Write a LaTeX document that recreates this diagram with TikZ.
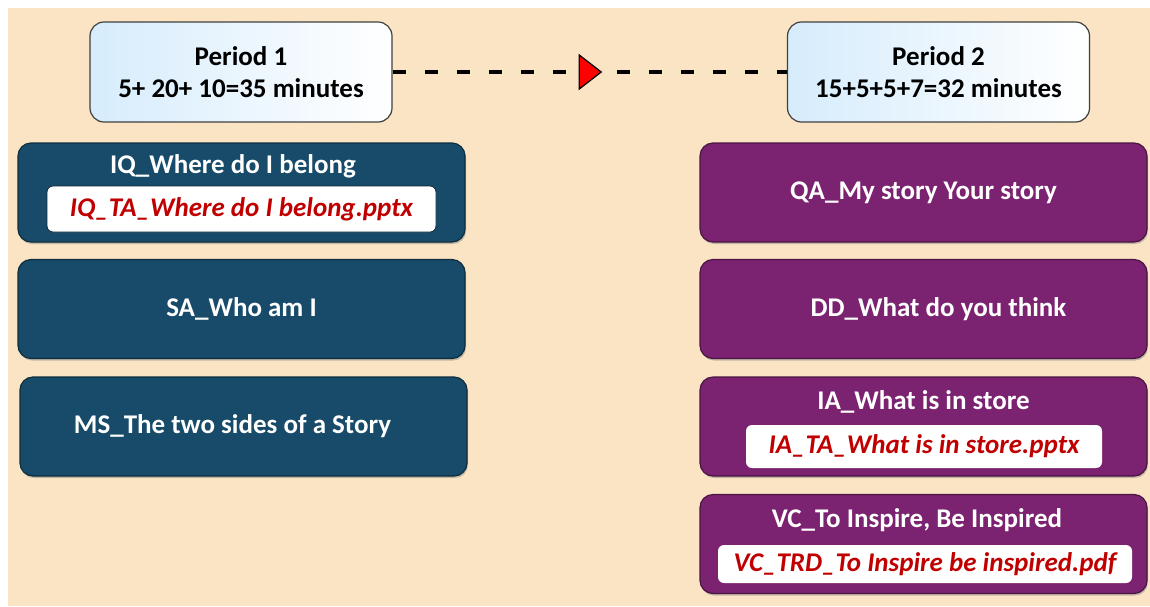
\documentclass[tikz,border=0pt]{standalone}
\usepackage{fontspec}
\setmainfont{Carlito}
\usetikzlibrary{calc}
\usetikzlibrary{shadows}
\definecolor{beige}{RGB}{250,228,196}
\definecolor{tealc}{RGB}{23,75,105}
\definecolor{purplec}{RGB}{123,35,112}
\definecolor{filered}{RGB}{192,0,0}
\definecolor{lightblu}{RGB}{214,236,252}
\tikzset{
    period/.style={draw=black!75, line width=1.2pt, rounded corners=14pt,
        left color=lightblu, right color=white,
        minimum width=302pt, minimum height=100pt, align=center,
        font=\bfseries\fontsize{27}{32}\selectfont},
    topic/.style={rounded corners=13pt, line width=1.2pt,
        minimum width=447pt, minimum height=99pt, text=white,
        font=\bfseries\fontsize{27}{32}\selectfont,
        drop shadow={shadow xshift=1pt, shadow yshift=-2pt, opacity=0.45}},
    tealbox/.style={topic, fill=tealc, draw=tealc!60!black},
    purplebox/.style={topic, fill=purplec, draw=purplec!60!black},
    title/.style={text=white, font=\bfseries\fontsize{27}{32}\selectfont},
    file/.style={fill=white, rounded corners=6pt, text=filered, inner sep=0pt,
        font=\bfseries\itshape\fontsize{27}{32}\selectfont},
}
\begin{document}
\begin{tikzpicture}[x=1pt,y=-1pt]
    \useasboundingbox (0,0) rectangle (1150,606);
    \fill[white] (0,0) rectangle (1150,606);
    \fill[beige] (8,8) rectangle (1150,606);

    % periods
    \node[period] (p1) at (241,72) {Period 1\\5+ 20+ 10=35 minutes};
    \node[period] (p2) at (938.5,72) {Period 2\\15+5+5+7=32 minutes};

    \draw[line width=4pt, dash pattern=on 13pt off 19pt] (p1.east) -- (p2.west);
    \coordinate (mid) at ($(p1.east)!0.5!(p2.west)$);
    \draw[fill=red, line width=1.2pt, line join=miter]
        ([xshift=-10.5pt,yshift=-17pt]mid) -- ([xshift=11.5pt]mid)
        -- ([xshift=-10.5pt,yshift=17pt]mid) -- cycle;

    % period 1
    \node[tealbox] (iq) at (241.5,192.5) {};
    \node[title] (iqt) at (233,166) {IQ\_Where do I belong};
    \node[file, minimum width=389pt, minimum height=46pt, draw=tealc!50!black, line width=0.8pt]
        (iqf) at (241.5,209) {IQ\_TA\_Where do I belong.pptx};
    \node[tealbox] (sa) at (241.5,309) {SA\_Who am I};
    \node[tealbox] (ms) at (243.5,426.5) {\hspace*{-22pt}MS\_The two sides of a Story};

    % period 2
    \node[purplebox] (qa) at (923.5,192.5) {QA\_My story Your story};
    \node[purplebox] (dd) at (923.5,309) {\hspace*{30pt}DD\_What do you think};
    \node[purplebox] (ia) at (923.5,426.5) {};
    \node[title] (iat) at (923.5,402) {IA\_What is in store};
    \node[file, minimum width=356pt, minimum height=43pt]
        (iaf) at (924,446.5) {IA\_TA\_What is in store.pptx};
    \node[purplebox] (vc) at (923.5,544) {};
    \node[title] (vct) at (917,520) {VC\_To Inspire, Be Inspired};
    \node[file, minimum width=414pt, minimum height=38pt]
        (vcf) at (925,564) {VC\_TRD\_To Inspire be inspired.pdf};
\end{tikzpicture}
\end{document}
